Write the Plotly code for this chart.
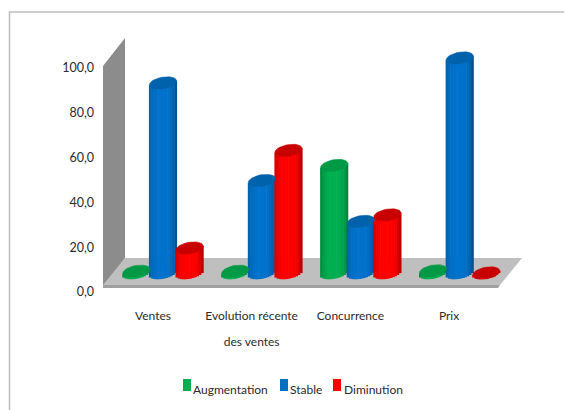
import math
import plotly.graph_objects as go

categories = ["Ventes", "Evolution récente<br>des ventes", "Concurrence", "Prix"]
series_names = ["Augmentation", "Stable", "Diminution"]
augmentation = [0.8, 0.8, 50.0, 1.0]
stable = [88.4, 43.0, 24.0, 100.0]
diminution = [11.6, 57.0, 27.0, 0.0]
y_ticks = [0, 20, 40, 60, 80, 100]

W, H = 565, 410
FONT = "Lato"
TEXT = "#2b2b2b"
values = [augmentation, stable, diminution]
side = [[(0, 140, 62), (0, 176, 80), (0, 130, 58)],
        [(0, 98, 172), (0, 114, 204), (0, 80, 140)],
        [(214, 0, 0), (255, 0, 0), (180, 0, 0)]]
top = ["#009a46", "#0062aa", "#c80000"]
legend_cols = ["#00B050", "#0070C0", "#FF0000"]

PX_X = 98.9        # px per category
PX_Y = 2.15        # px per value unit
X0, Y0 = 163, 273  # pixel of first category/zero on the rear plane
BAR = 26.6
RX, RY, TILT = 13.8, 5.8, math.radians(-10)
N = 12


def fx(p):
    return p / W


def fy(p):
    return 1 - p / H


def lerp(a, b, t):
    return tuple(int(round(a[i] + (b[i] - a[i]) * t)) for i in range(3))


def strip_color(c, u):
    if u < 0:
        t = min(1, (-u) ** 3 * 1.2)
        return "rgb%s" % (lerp(c[1], c[0], t),)
    t = min(1, u ** 3 * 1.2)
    return "rgb%s" % (lerp(c[1], c[2], t),)


fig = go.Figure()
dx = 2 * RX / N
order = sorted(range(N), key=lambda k: -abs(k - (N - 1) / 2))
for s, vals in enumerate(values):
    centers = [i + (s - 1) * BAR / PX_X for i in range(len(vals))]
    for k in order:
        off = -RX + dx * (k + 0.5)
        u = off / RX
        half = RY * math.sqrt(max(0, 1 - u * u))
        rise = math.tan(-TILT) * off
        bases = [(rise - half) / PX_Y for _ in vals]
        tops = [v + rise / PX_Y for v in vals]
        col = strip_color(side[s], u)
        fig.add_trace(go.Bar(
            x=[c + off / PX_X for c in centers],
            y=[t - b for t, b in zip(tops, bases)],
            base=bases, width=(dx + 0.6) / PX_X,
            marker=dict(color=col, line=dict(width=0)),
            showlegend=False, hoverinfo="skip", xaxis="x", yaxis="y"))

for s, vals in enumerate(values):
    xs, ys = [], []
    for i, v in enumerate(vals):
        c = i + (s - 1) * BAR / PX_X
        for a in range(37):
            t = math.radians(a * 10)
            ex = RX * math.cos(t)
            ey = RY * math.sin(t)
            xs.append(c + (ex * math.cos(-TILT) - ey * math.sin(-TILT)) / PX_X)
            ys.append(v + (ex * math.sin(-TILT) + ey * math.cos(-TILT)) / PX_Y)
        xs.append(None)
        ys.append(None)
    fig.add_trace(go.Scatter(x=xs, y=ys, mode="lines", fill="toself",
                             fillcolor=top[s], line=dict(color=top[s], width=0.5),
                             name=series_names[s], showlegend=False, hoverinfo="skip",
                             xaxis="x", yaxis="y"))

fig.add_trace(go.Scatter(x=categories, y=[0] * len(categories), mode="lines",
                         line=dict(width=0), showlegend=False, hoverinfo="skip",
                         xaxis="x2", yaxis="y2"))

grey = "#bdbdbd"
shapes = [
    dict(type="path", xref="paper", yref="paper", layer="below",
         path=f"M{fx(W-1)},{fy(12)} L{fx(9.5)},{fy(12)} L{fx(9.5)},{fy(H)}",
         line=dict(color=grey, width=1.5)),
    dict(type="path", xref="paper", yref="paper", layer="below",
         path=f"M{fx(103)},{fy(66)} L{fx(125)},{fy(38)} L{fx(125)},{fy(258)} L{fx(103)},{fy(288)} Z",
         fillcolor="#8c8c8c", line=dict(width=0)),
    dict(type="path", xref="paper", yref="paper", layer="below",
         path=f"M{fx(103)},{fy(285)} L{fx(125)},{fy(258)} L{fx(522)},{fy(258)} L{fx(500)},{fy(285)} Z",
         fillcolor="#bfbfbf", line=dict(width=0)),
    dict(type="path", xref="paper", yref="paper", layer="below",
         path=f"M{fx(103)},{fy(285)} L{fx(500)},{fy(285)} L{fx(498)},{fy(288)} L{fx(103)},{fy(288)} Z",
         fillcolor="#a0a0a0", line=dict(width=0)),
]
annotations = []
legend_sq = [183, 280, 333]
legend_tx = [191, 288, 342]
for s in range(3):
    shapes.append(dict(type="rect", xref="paper", yref="paper", layer="below",
                       x0=fx(legend_sq[s]), x1=fx(legend_sq[s] + 8), y0=fy(379), y1=fy(391),
                       fillcolor=legend_cols[s], line=dict(width=0)))
    annotations.append(dict(text=series_names[s], xref="paper", yref="paper", showarrow=False,
                            x=fx(legend_tx[s]), y=fy(389), xanchor="left", yanchor="middle",
                            font=dict(family=FONT, size=12, color=TEXT)))

xa, xb = 100, 530
ya, yb = 30, 300
tick_span = '<span style="font-size:12px">%s</span>'
fig.update_layout(
    width=W, height=H, margin=dict(l=0, r=0, t=0, b=0, autoexpand=False),
    paper_bgcolor="white", plot_bgcolor="rgba(0,0,0,0)",
    barmode="overlay", separators=", ", showlegend=False,
    shapes=shapes, annotations=annotations,
    xaxis=dict(domain=[fx(xa), fx(xb)], range=[(xa - X0) / PX_X, (xb - X0) / PX_X],
               visible=False, anchor="y"),
    yaxis=dict(domain=[fy(yb), fy(ya)], range=[(Y0 - yb) / PX_Y, (Y0 - ya) / PX_Y],
               visible=False, anchor="x"),
    xaxis2=dict(domain=[fx(153 - 49.4), fx(449 + 49.4)], type="category", range=[-0.5, 3.5],
                tickmode="array", tickvals=categories,
                ticktext=["<br>".join(tick_span % p for p in c.split("<br>")) for c in categories],
                tickfont=dict(family=FONT, size=20, color=TEXT),
                showgrid=False, zeroline=False, showline=False, ticks="",
                anchor="free", position=fy(299), tickangle=0),
    yaxis2=dict(domain=[fy(292), fy(68)], range=[0, 100], tickmode="array", tickvals=y_ticks,
                tickformat=".1f", tickfont=dict(family=FONT, size=12.5, color=TEXT),
                showgrid=False, zeroline=False, showline=False, ticks="",
                anchor="free", position=fx(94)),
)
fig.write_html("out.html", config={"displayModeBar": False},
               post_script="document.body.style.margin='0';")
